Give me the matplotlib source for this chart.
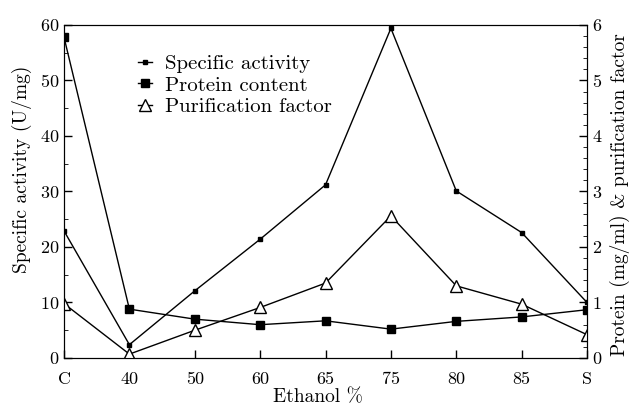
import matplotlib.pyplot as plt
import numpy as np

plt.rcParams['font.family'] = 'serif'
plt.rcParams['font.serif'] = ['cmr10', 'DejaVu Serif']
plt.rcParams['mathtext.fontset'] = 'cm'
plt.rcParams['axes.formatter.use_mathtext'] = True

# data
categories = ['C', '40', '50', '60', '65', '75', '80', '85', 'S']
specific_activity = [22.9, 2.4, 12.1, 21.4, 31.2, 59.4, 30.1, 22.6, 10.0]
protein_content = [5.78, 0.88, 0.70, 0.60, 0.67, 0.52, 0.66, 0.74, 0.87]
purification_factor = [0.98, 0.07, 0.50, 0.91, 1.35, 2.56, 1.30, 0.97, 0.42]

x = np.arange(len(categories))

fig = plt.figure(figsize=(6.3, 4.09), dpi=100)
ax = fig.add_axes([0.1016, 0.1247, 0.8302, 0.8142])
ax2 = ax.twinx()

l1, = ax.plot(x, specific_activity, color='black', lw=1, marker='s', ms=2.5,
              label='Specific activity')
l2, = ax2.plot(x, protein_content, color='black', lw=1, marker='s', ms=6,
               label='Protein content')
l3, = ax2.plot(x, purification_factor, color='black', lw=1, marker='^', ms=8,
               mfc='white', mew=1, label='Purification factor')

ax.set_xlim(0, len(categories) - 1)
ax.set_ylim(0, 60)
ax2.set_ylim(0, 6)
ax.set_xticks(x)
ax.set_xticklabels(categories)
ax.set_yticks(np.arange(0, 61, 10))
ax.set_yticks(np.arange(0, 61, 5), minor=True)
ax2.set_yticks(np.arange(0, 7, 1))
ax2.set_yticks(np.arange(0, 6.01, 0.2), minor=True)

ax.tick_params(axis='both', direction='in', labelsize=13, length=6, width=1)
ax.tick_params(axis='y', which='minor', direction='in', length=3)
ax.tick_params(axis='x', pad=10)
ax2.tick_params(axis='y', direction='in', labelsize=13, length=6, width=1)
ax2.tick_params(axis='y', which='minor', direction='in', length=3)

ax.set_xlabel('Ethanol %', fontsize=14)
ax.set_ylabel('Specific activity (U/mg)', fontsize=14)
ax2.set_ylabel('Protein (mg/ml) & purification factor', fontsize=14)
ax.xaxis.set_label_coords(0.485, -0.092)
ax.yaxis.set_label_coords(-0.062, 0.567)
ax2.yaxis.set_label_coords(1.043, 0.49)

ax.legend(handles=[l1, l2, l3], loc='upper left', bbox_to_anchor=(0.125, 0.937),
          frameon=False, fontsize=15, handlelength=0.7, handletextpad=0.6,
          labelspacing=0.15, borderaxespad=0.0)

fig.savefig('out.png', dpi=100)
